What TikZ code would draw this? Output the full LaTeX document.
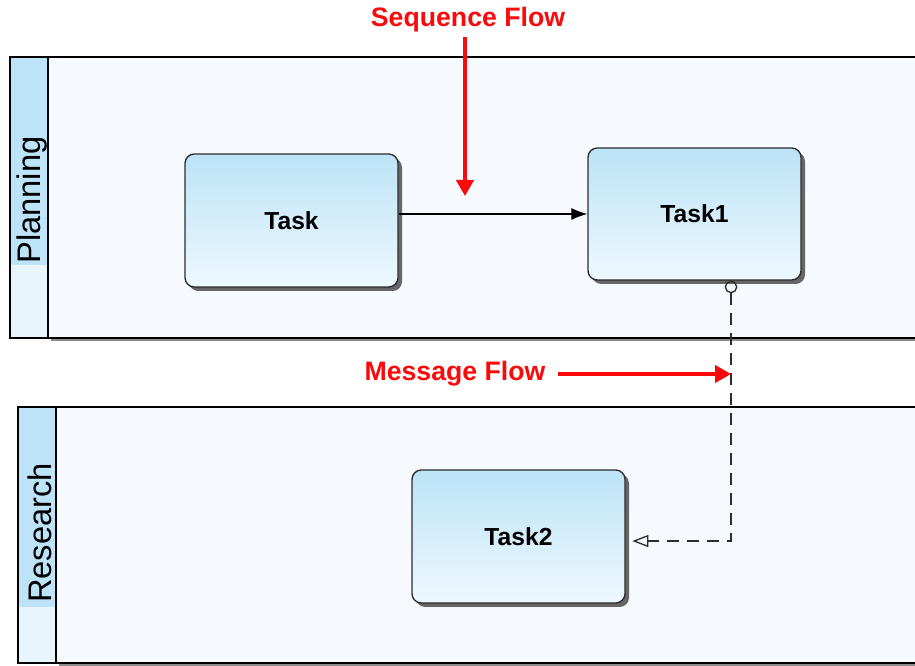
\documentclass[tikz,border=0pt]{standalone}
\usepackage{fontspec}
\setmainfont{Liberation Sans}
\usetikzlibrary{arrows.meta, positioning, shadows}
\definecolor{tasktop}{RGB}{188,227,247}
\definecolor{taskbot}{RGB}{238,248,254}
\definecolor{poolbg}{RGB}{246,250,254}
\definecolor{headblue}{RGB}{188,227,248}
\definecolor{headlight}{RGB}{232,245,252}
\definecolor{edgegray}{RGB}{45,45,45}
\definecolor{flowred}{RGB}{250,10,10}

\begin{document}
\begin{tikzpicture}[x=0.75pt, y=-0.75pt,
      pool/.style={draw=black, line width=1.5pt, fill=poolbg,
          drop shadow={shadow xshift=2pt, shadow yshift=-2.5pt, fill=black!45, opacity=1}},
      lanehead/.style={draw=black, line width=1pt, fill=headblue,
          minimum width=28.5pt, inner sep=0pt},
      lanelabel/.style={rotate=90, font=\fontsize{24.5}{25}\selectfont, inner sep=0pt},
      task/.style={draw=edgegray, line width=1pt, rounded corners=7pt,
          top color=tasktop, bottom color=taskbot,
          minimum width=159.75pt, font=\fontsize{18.5}{19}\selectfont\bfseries,
          drop shadow={shadow xshift=3pt, shadow yshift=-3pt, fill=black!60, opacity=1}},
      seqarr/.style={-{Latex[length=12pt, width=9pt]}, line width=0.8pt, black},
      msgarr/.style={{Circle[open, length=9.5pt, width=9.5pt]}-{Triangle[open, length=12pt, width=9pt]},
          dashed, dash pattern=on 9pt off 6pt, line width=1pt, edgegray},
      note/.style={font=\fontsize{20}{21}\selectfont\bfseries, text=flowred},
      redarr/.style={-{Triangle[length=12pt, width=13pt]}, line width=2.4pt, flowred}
    ]
    \useasboundingbox (0,0) rectangle (915,666);

    % pools
    \node[pool, minimum width=661.5pt, minimum height=210.75pt] (planpool) at (489,197.5) {};
    \node[lanehead, minimum height=210.75pt,
          path picture={\fill[headlight] (path picture bounding box.south west) rectangle
              ([yshift=55pt]path picture bounding box.south east);}] (planhead) at (29,197.5) {};
    \node[lanelabel] (planlbl) at ([xshift=2pt, yshift=-2pt]planhead) {Planning};
    \node[pool, minimum width=655.5pt, minimum height=192pt] (respool) at (493,535) {};
    \node[lanehead, minimum height=192pt,
          path picture={\fill[headlight] (path picture bounding box.south west) rectangle
              ([yshift=42pt]path picture bounding box.south east);}] (reshead) at (37,535) {};
    \node[lanelabel] (reslbl) at ([xshift=2pt, yshift=1.5pt]reshead) {Research};

    % tasks
    \node[task, minimum height=99.75pt] (task)  at (291.5,220.5) {Task};
    \node[task, minimum height=99pt]    (task1) at (694.5,214)   {Task1};
    \node[task, minimum height=99.75pt] (task2) at (518.5,536.5) {Task2};

    % flows
    \draw[seqarr] (task1.west -| task.east) -- (task1.west);
    \coordinate (msgtop) at ([xshift=27.4pt]task1.south);
    \draw[msgarr] (msgtop) |- ([xshift=5pt, yshift=-3.4pt]task2.east);

    % annotations
    \node[note] (seqlbl) at (468,20) {Sequence Flow};
    \coordinate (seqtip) at (465,196);
    \draw[redarr] (seqlbl.south -| seqtip) -- (seqtip);
    \node[note] (msglbl) at (455,374) {Message Flow};
    \draw[redarr] ([xshift=6pt]msglbl.east) -- (msglbl -| msgtop);
\end{tikzpicture}
\end{document}
